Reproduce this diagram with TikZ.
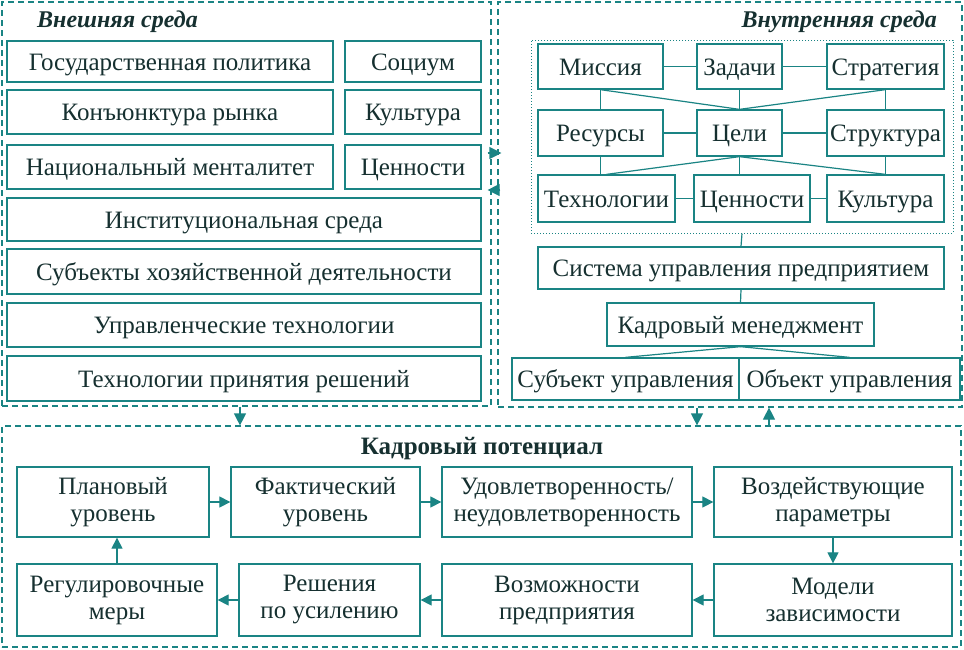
\documentclass[tikz,border=0pt]{standalone}
\usepackage{fontspec}
\setmainfont{Liberation Serif}
\usetikzlibrary{arrows.meta,calc}
\definecolor{teal1}{RGB}{26,132,132}
\definecolor{ink}{RGB}{22,48,48}
\tikzset{
 box/.style={draw=teal1, line width=1.3pt, inner sep=0pt, text=ink, font=\fontsize{25}{27}\selectfont, align=center},
 oneline/.style={text height=21pt, text depth=4pt},
 cont/.style={draw=teal1, line width=1.2pt, dash pattern=on 6pt off 4pt, inner sep=0pt},
 dotbox/.style={draw=teal1, line width=1pt, dotted, inner sep=0pt},
 link/.style={draw=teal1, line width=1.2pt},
 arr/.style={draw=teal1, line width=1.2pt, -{Triangle[length=11pt,width=11pt]}},
 xarr/.style={draw=teal1, line width=1.2pt, -{Triangle[length=12pt,width=12pt]}},
 ttl/.style={text=ink, font=\fontsize{24}{26}\selectfont\bfseries\itshape, inner sep=0pt},
 ttlb/.style={text=ink, font=\fontsize{25}{27}\selectfont\bfseries, inner sep=0pt},
}
\newcommand\bx[7][box,oneline]{\node[#1, minimum width={#5pt-#3pt}, minimum height={#6pt-#4pt}] (#2) at ({(#3+#5)/2},{-(#4+#6)/2}) {#7};}
\begin{document}
\begin{tikzpicture}[x=1pt,y=1pt]
\fill[white] (0,0) rectangle (964,-649);
\useasboundingbox (0,0) rectangle (964,-649);
% containers
\bx[cont]{ext}{2}{2}{491}{406}{}
\bx[cont]{int}{498}{2}{962}{407}{}
\bx[cont]{pot}{2}{426}{961}{647}{}
\node[ttl, anchor=west] (t1) at (37,-22) {Внешняя среда};
\node[ttl, anchor=east] (t2) at (937,-22) {Внутренняя среда};
\node[ttlb] (t3) at (482,-449) {Кадровый потенциал};
% external
\bx{e1}{7}{41}{333}{82}{Государственная политика}
\bx{e2}{345}{41}{481}{82}{Социум}
\bx{e3}{7}{90}{333}{134}{Конъюнктура рынка}
\bx{e4}{345}{90}{481}{134}{Культура}
\bx{e5}{7}{145}{333}{189}{Национальный менталитет}
\bx{e6}{345}{145}{481}{189}{Ценности}
\bx{e7}{7}{198}{481}{241}{Институциональная среда}
\bx{e8}{7}{249}{481}{294}{Субъекты хозяйственной деятельности}
\bx{e9}{7}{303}{481}{347}{Управленческие технологии}
\bx{e10}{7}{356}{481}{401}{Технологии принятия решений}
% internal
\bx[dotbox]{dt}{531}{40}{953}{233}{}
\bx{m}{538}{44}{663}{89}{Миссия}
\bx{z}{697}{44}{782}{89}{Задачи}
\bx{s}{827}{44}{944}{89}{Стратегия}
\bx{r}{538}{110}{663}{156}{Ресурсы}
\bx{c}{697}{110}{782}{156}{Цели}
\bx{st}{827}{110}{944}{156}{Структура}
\bx{t}{538}{175}{675}{222}{Технологии}
\bx{v}{694}{175}{810}{222}{Ценности}
\bx{k}{827}{175}{944}{222}{Культура}
\draw[link] (m.east) -- (z.west);
\draw[link] (z.east) -- (s.west);
\draw[link] (r.east) -- (c.west);
\draw[link] (c.east) -- (st.west);
\draw[link] (t.east) -- (v.west);
\draw[link] (v.east) -- (k.west);
\draw[link] (m.south) -- (r.north);
\draw[link] (s.south) -- (st.north);
\draw[link] (z.south) -- (c.north);
\draw[link] (m.south) -- (c.north);
\draw[link] (s.south) -- (c.north);
\draw[link] (r.south) -- (r.south |- t.north);
\draw[link] (st.south) -- (st.south |- k.north);
\draw[link] (c.south) -- (c.south |- v.north);
\draw[link] (c.south) -- (t.north);
\draw[link] (c.south) -- (k.north);
\bx{sys}{538}{247}{944}{289}{Система управления предприятием}
\bx{km}{607}{303}{874}{346}{Кадровый менеджмент}
\bx{sub}{512}{358}{739}{400}{Субъект управления}
\bx{obj}{739}{358}{960}{400}{Объект управления}
\draw[link] (dt.south) -- (sys.north);
\draw[link] (sys.south) -- (km.north);
\draw[link] (km.south) -- (sub.north);
\draw[link] (km.south) -- (obj.north);
% potential
\bx[box]{pl}{17}{467}{209}{537}{Плановый\\уровень}
\bx[box]{fa}{231}{467}{420}{537}{Фактический\\уровень}
\bx[box]{ud}{442}{467}{692}{537}{Удовлетворенность/\\неудовлетворенность}
\bx[box]{vo}{714}{467}{952}{537}{Воздействующие\\параметры}
\bx[box]{rg}{17}{564}{217}{636}{Регулировочные\\меры}
\bx[box]{rs}{239}{564}{420}{636}{Решения\\по усилению}
\bx[box]{vz}{442}{564}{692}{636}{Возможности\\предприятия}
\bx[box]{md}{714}{564}{952}{636}{Модели\\зависимости}
\draw[arr] (pl.east) -- (fa.west);
\draw[arr] (fa.east) -- (ud.west);
\draw[arr] (ud.east) -- (vo.west);
\draw[arr] (vo.south) -- (md.north);
\draw[arr] (md.west) -- (vz.east);
\draw[arr] (vz.west) -- (rs.east);
\draw[arr] (rs.west) -- (rg.east);
\draw[arr] (rg.north) -- (rg.north |- pl.south);
% cross arrows
\coordinate (ya) at (0,-153);
\coordinate (yb) at (0,-190);
\coordinate (xa) at (240,0);
\coordinate (xb) at (697,0);
\coordinate (xc) at (769,0);
\draw[xarr] ([xshift=-4pt]ext.east |- ya) -- ([xshift=4pt]int.west |- ya);
\draw[xarr] ([xshift=3pt]int.west |- yb) -- ([xshift=-4pt]ext.east |- yb);
\draw[xarr] (ext.south -| xa) -- (pot.north -| xa);
\draw[xarr] (int.south -| xb) -- (pot.north -| xb);
\draw[xarr] (pot.north -| xc) -- (int.south -| xc);
\end{tikzpicture}
\end{document}
